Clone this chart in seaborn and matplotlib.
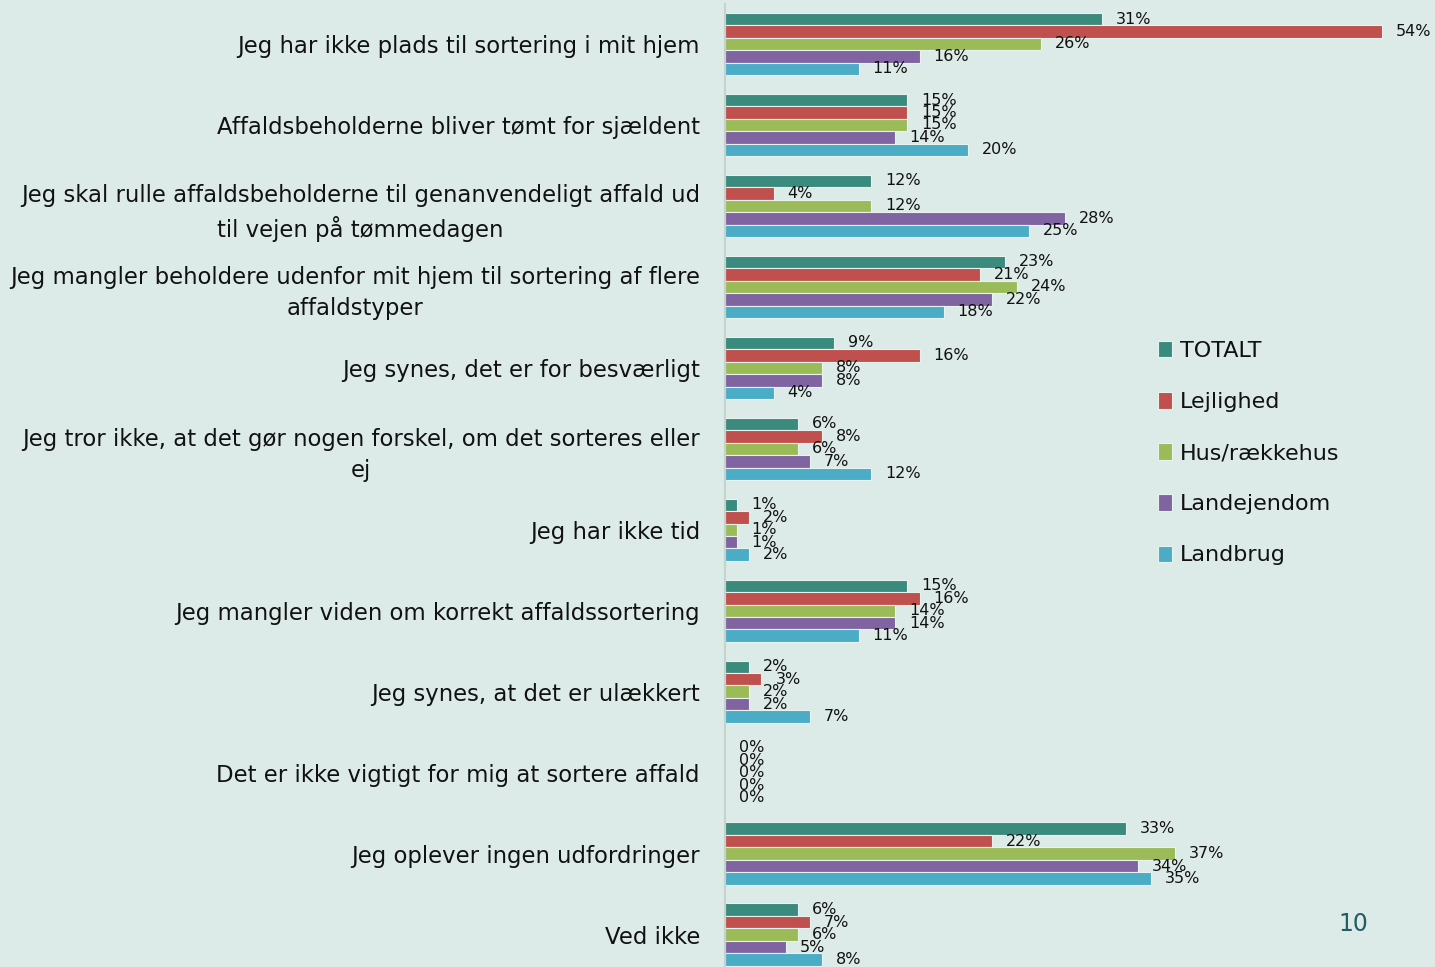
import pandas as pd
import matplotlib.pyplot as plt
import seaborn as sns

# Data
udsagn = [
    "Jeg har ikke plads til sortering i mit hjem",
    "Affaldsbeholderne bliver tømt for sjældent",
    "Jeg skal rulle affaldsbeholderne til genanvendeligt affald ud\ntil vejen på tømmedagen",
    "Jeg mangler beholdere udenfor mit hjem til sortering af flere\naffaldstyper",
    "Jeg synes, det er for besværligt",
    "Jeg tror ikke, at det gør nogen forskel, om det sorteres eller\nej",
    "Jeg har ikke tid",
    "Jeg mangler viden om korrekt affaldssortering",
    "Jeg synes, at det er ulækkert",
    "Det er ikke vigtigt for mig at sortere affald",
    "Jeg oplever ingen udfordringer",
    "Ved ikke",
]
grupper = ["TOTALT", "Lejlighed", "Hus/rækkehus", "Landejendom", "Landbrug"]
totalt = [31, 15, 12, 23, 9, 6, 1, 15, 2, 0, 33, 6]
lejlighed = [54, 15, 4, 21, 16, 8, 2, 16, 3, 0, 22, 7]
hus = [26, 15, 12, 24, 8, 6, 1, 14, 2, 0, 37, 6]
landejendom = [16, 14, 28, 22, 8, 7, 1, 14, 2, 0, 34, 5]
landbrug = [11, 20, 25, 18, 4, 12, 2, 11, 7, 0, 35, 8]
farver = ["#3A8A7D", "#C0504D", "#9BBB59", "#8064A2", "#4BACC6"]

serier = [totalt, lejlighed, hus, landejendom, landbrug]
rows = []
for g, vals in zip(grupper, serier):
    for u, v in zip(udsagn, vals):
        rows.append({"Udsagn": u, "Gruppe": g, "Andel": v})
df = pd.DataFrame(rows)

bg = "#DCEBE7"
sns.set_theme(style="white")
plt.rcParams["font.family"] = ["DejaVu Sans"]

fig = plt.figure(figsize=(14.35, 9.67), dpi=100, facecolor=bg)
ax = fig.add_axes([725 / 1435, 0, 710 / 1435, 1 - 3.5 / 967])
ax.set_facecolor(bg)

sns.barplot(data=df, x="Andel", y="Udsagn", hue="Gruppe", order=udsagn,
            hue_order=grupper, palette=farver, saturation=1, orient="h",
            width=0.77, edgecolor="#E8F2EF", linewidth=0.8, ax=ax)

for cont in ax.containers:
    ax.bar_label(cont, fmt="%d%%", padding=10, fontsize=11.5, color="#111111")

ax.set_xlim(0, 58.4)
ax.set_ylim(11.4, -0.5)
ax.set_xlabel("")
ax.set_ylabel("")
ax.set_xticks([])
ax.tick_params(axis="y", length=0, pad=18)
for lbl in ax.get_yticklabels():
    lbl.set_fontsize(16.4)
    lbl.set_color("#111111")
    lbl.set_multialignment("center")
    lbl.set_linespacing(1.45)

for side in ["top", "right", "bottom"]:
    ax.spines[side].set_visible(False)
ax.spines["left"].set_color("#C5D3CF")
ax.spines["left"].set_linewidth(1.5)

leg = ax.legend(title=None, frameon=False, fontsize=16, loc="upper left",
                bbox_to_anchor=(1138 / 1435, 1 - 321 / 967),
                bbox_transform=fig.transFigure, handlelength=0.65,
                handleheight=0.75, handletextpad=0.35, labelspacing=1.4)
for t in leg.get_texts():
    t.set_color("#111111")

fig.text(1353 / 1435, 1 - 924 / 967, "10", fontsize=17, color="#1F5E63",
         ha="center", va="center")

fig.savefig("out.png", dpi=100, facecolor=bg)
